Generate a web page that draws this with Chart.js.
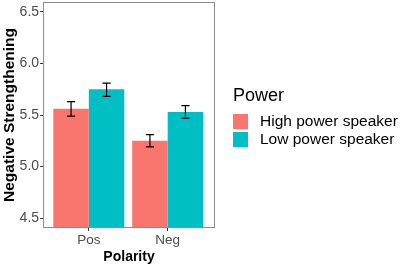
<!DOCTYPE html>
<html>
<head>
<meta charset="utf-8">
<script src="https://cdn.jsdelivr.net/npm/chart.js@4/dist/chart.umd.min.js"></script>
<style>
  html, body { margin: 0; padding: 0; background: #fff; }
  #wrap { position: relative; width: 400px; height: 266px; }
  #legend { position: absolute; left: 233px; top: 85px; font-family: 'Liberation Sans', Arial, sans-serif; color: #000; }
  #legend .title { font-size: 18px; line-height: 21px; margin-bottom: 6px; }
  #legend .row { display: flex; align-items: center; height: 18px; font-size: 15.5px; }
  #legend .sw { width: 15px; height: 15px; margin-right: 12px; }
</style>
</head>
<body>
<div id="wrap">
  <canvas id="chart"></canvas>
  <div id="legend"></div>
</div>
<script>
// data
const categories = ["Pos", "Neg"];
const seriesNames = ["High power speaker", "Low power speaker"];
const highValues = [5.56, 5.25];
const lowValues = [5.75, 5.53];
const highErrLow = [5.49, 5.19];
const highErrHigh = [5.63, 5.31];
const lowErrLow = [5.68, 5.47];
const lowErrHigh = [5.81, 5.59];
const yTicks = [4.5, 5.0, 5.5, 6.0, 6.5];

const colors = ["#F8766D", "#00BFC4"];
const fontFamily = "'Liberation Sans', Arial, sans-serif";

// category i sits at x = i + 1 on a linear axis (like ggplot's discrete scale)
function toPoints(values) {
    return values.map((v, i) => ({ x: i + 1, y: v }));
}

// legend, built as html
const legendBox = document.getElementById("legend");
legendBox.innerHTML = '<div class="title">Power</div>' + seriesNames.map(function (name, i) {
    return '<div class="row"><div class="sw" style="background:' + colors[i] + '"></div>' + name + '</div>';
}).join("");

// error bars drawn from the scales
const errorBars = {
    id: "errorBars",
    afterDatasetsDraw(chart) {
        const ctx = chart.ctx;
        const yScale = chart.scales.y;
        const ranges = [[highErrLow, highErrHigh], [lowErrLow, lowErrHigh]];
        ctx.save();
        ctx.strokeStyle = "#000";
        ctx.lineWidth = 1.2;
        chart.data.datasets.forEach(function (ds, di) {
            const meta = chart.getDatasetMeta(di);
            meta.data.forEach(function (bar, i) {
                const x = bar.x;
                const yLo = yScale.getPixelForValue(ranges[di][0][i]);
                const yHi = yScale.getPixelForValue(ranges[di][1][i]);
                const half = bar.width * 0.115;
                ctx.beginPath();
                ctx.moveTo(x, yLo); ctx.lineTo(x, yHi);
                ctx.moveTo(x - half, yLo); ctx.lineTo(x + half, yLo);
                ctx.moveTo(x - half, yHi); ctx.lineTo(x + half, yHi);
                ctx.stroke();
            });
        });
        ctx.restore();
    }
};

// panel border round the plot area
const panelBorder = {
    id: "panelBorder",
    afterDraw(chart) {
        const a = chart.chartArea;
        const ctx = chart.ctx;
        ctx.save();
        ctx.strokeStyle = "#8c8c8c";
        ctx.lineWidth = 1;
        ctx.strokeRect(a.left + 0.5, a.top + 0.5, a.right - a.left - 1, a.bottom - a.top - 1);
        ctx.restore();
    }
};

new Chart(document.getElementById("chart"), {
    type: "bar",
    data: {
        datasets: [
            { label: seriesNames[0], data: toPoints(highValues), backgroundColor: colors[0] },
            { label: seriesNames[1], data: toPoints(lowValues), backgroundColor: colors[1] }
        ]
    },
    options: {
        responsive: true,
        maintainAspectRatio: false,
        animation: false,
        categoryPercentage: 0.9,
        barPercentage: 1.0,
        layout: { padding: { top: 2, right: 185, left: 0, bottom: 0 } },
        plugins: {
            tooltip: { enabled: false },
            legend: { display: false }
        },
        scales: {
            x: {
                type: "linear",
                offset: false,
                min: 0.42,
                max: 2.6,
                afterBuildTicks: function (scale) {
                    scale.ticks = categories.map((c, i) => ({ value: i + 1 }));
                },
                grid: { display: true, offset: false, drawOnChartArea: false, tickLength: 3, color: "#333" },
                border: { display: false },
                ticks: {
                    color: "#4d4d4d",
                    font: { family: fontFamily, size: 13.5 },
                    padding: 1,
                    callback: v => categories[v - 1]
                },
                title: {
                    display: true,
                    text: "Polarity",
                    color: "#000",
                    font: { family: fontFamily, size: 14, weight: "bold" },
                    padding: { top: 0, bottom: 0 }
                }
            },
            y: {
                min: 4.404,
                max: 6.596,
                afterBuildTicks: function (scale) {
                    scale.ticks = yTicks.map(v => ({ value: v }));
                },
                afterFit: function (scale) {
                    scale.paddingTop = 0;
                },
                grid: { display: true, drawOnChartArea: false, tickLength: 3, color: "#333" },
                border: { display: false },
                ticks: {
                    color: "#4d4d4d",
                    font: { family: fontFamily, size: 14 },
                    padding: 1,
                    callback: v => v.toFixed(1)
                },
                title: {
                    display: true,
                    text: "Negative Strengthening",
                    color: "#000",
                    font: { family: fontFamily, size: 15.5, weight: "bold" },
                    padding: { top: 0, bottom: 0 }
                }
            }
        }
    },
    plugins: [errorBars, panelBorder]
});
</script>
</body>
</html>
